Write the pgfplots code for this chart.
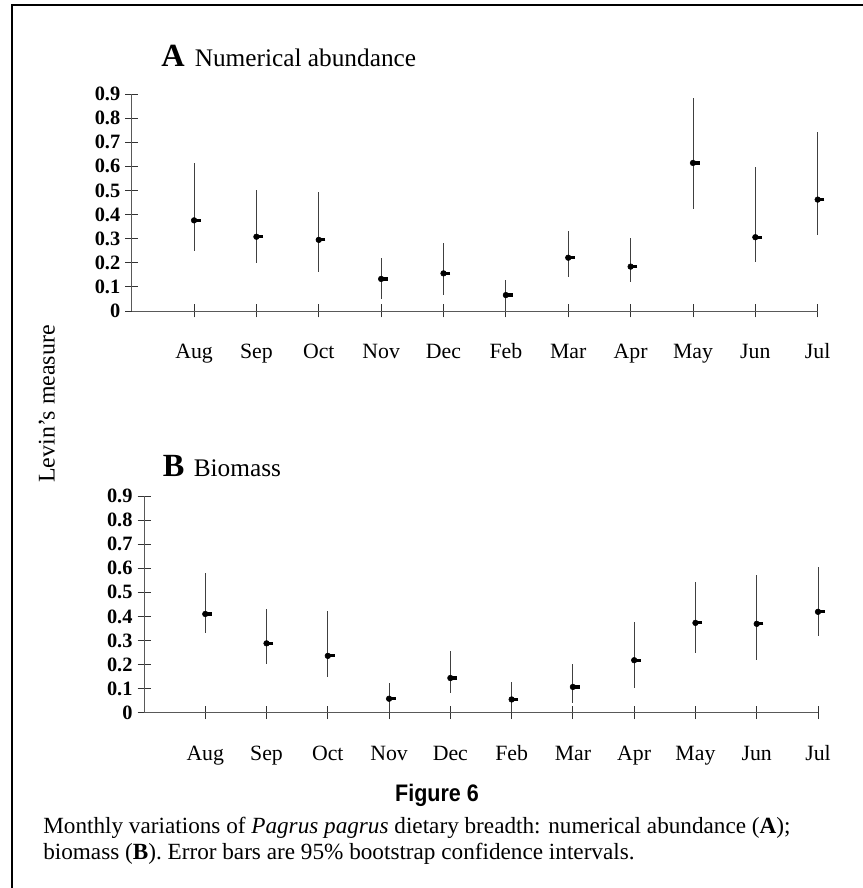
\documentclass[border=0pt]{standalone}
\usepackage{fontspec}
\setmainfont{Liberation Serif}
\newfontfamily\figfont[FakeStretch=0.9]{Liberation Sans}
\usepackage{pgfplots}
\pgfplotsset{compat=1.18}
\usepackage{pgfplotstable}

% Panel A: numerical abundance (value, lower and upper 95% CI)
\pgfplotstableread{
x  y     lo    hi
1  0.376 0.250 0.613
2  0.308 0.198 0.502
3  0.295 0.160 0.492
4  0.133 0.048 0.221
5  0.156 0.068 0.281
6  0.066 0.000 0.129
7  0.221 0.142 0.332
8  0.184 0.122 0.302
9  0.614 0.422 0.883
10 0.306 0.205 0.599
11 0.462 0.315 0.741
}\dataA

% Panel B: biomass
\pgfplotstableread{
x  y     lo    hi
1  0.410 0.329 0.582
2  0.288 0.204 0.429
3  0.236 0.148 0.422
4  0.058 0.000 0.125
5  0.144 0.082 0.255
6  0.055 0.000 0.128
7  0.107 0.040 0.204
8  0.218 0.104 0.375
9  0.373 0.246 0.544
10 0.369 0.217 0.571
11 0.419 0.317 0.605
}\dataB

\newcommand\yl[1]{{\fontsize{14.5}{14.5}\selectfont\bfseries #1}}

\pgfplotsset{
  panel/.style={
    scale only axis, clip=false,
    xmin=0, xmax=11, ymin=0, ymax=0.9,
    axis lines=left,
    axis line style={-, line width=0.6pt, black!65},
    xtick={1,2,3,4,5,6,7,8,9,10,11},
    xticklabels={Aug,Sep,Oct,Nov,Dec,Feb,Mar,Apr,May,Jun,Jul},
    ytick={0,0.1,0.2,0.3,0.4,0.5,0.6,0.7,0.8,0.9},
    yticklabels={\yl{0},\yl{0.1},\yl{0.2},\yl{0.3},\yl{0.4},\yl{0.5},\yl{0.6},\yl{0.7},\yl{0.8},\yl{0.9}},
    tick align=center, major tick length=3.25mm,
    tick style={line width=0.6pt, black!80},
    xticklabel style={font=\fontsize{15.5}{16}\selectfont, anchor=north,
      text height=10.5pt, text depth=3.3pt, yshift=-5.4mm},
    yticklabel style={anchor=east},
    yticklabel shift=0mm,
  },
  bars/.style={only marks, mark=none,
    error bars/.cd, y dir=both, y explicit, error mark=none,
    error bar style={line width=0.6pt, black!75}},
  dash/.style={only marks, mark=-, mark size=0.875mm, color=black,
    mark options={line width=0.8mm, xshift=0.8mm}},
}

\newcommand\PX[2]{({#1*0.25mm},{(888-#2)*0.25mm})}

\begin{document}
\begin{tikzpicture}
\useasboundingbox (0,0) rectangle (215.75mm,222mm);
\draw[line width=0.5mm] \PX{12}{888} -- \PX{12}{5} -- \PX{863}{5};

\begin{axis}[panel, at={(32.925mm,144.25mm)}, anchor=south west,
  width=171.5mm, height=54.25mm]
\addplot[bars] table[x=x, y=y,
  y error plus expr=\thisrow{hi}-\thisrow{y},
  y error minus expr=\thisrow{y}-\thisrow{lo}] {\dataA};
\addplot[dash] table[x=x, y=y] {\dataA};
\end{axis}

\begin{axis}[panel, at={(36mm,43.825mm)}, anchor=south west,
  width=168.5mm, height=54.175mm]
\addplot[bars] table[x=x, y=y,
  y error plus expr=\thisrow{hi}-\thisrow{y},
  y error minus expr=\thisrow{y}-\thisrow{lo}] {\dataB};
\addplot[dash] table[x=x, y=y] {\dataB};
\end{axis}

\node[anchor=base west, inner sep=0, font=\bfseries\fontsize{23}{23}\selectfont] at \PX{161}{66.7} {A};
\node[anchor=base west, inner sep=0, font=\fontsize{18}{18}\selectfont] at \PX{194.5}{66.7} {Numerical abundance};
\node[anchor=base west, inner sep=0, font=\bfseries\fontsize{23}{23}\selectfont] at \PX{162.5}{476} {B};
\node[anchor=base west, inner sep=0, font=\fontsize{18}{18}\selectfont] at \PX{193.5}{476} {Biomass};

\node[rotate=90, inner sep=0, font=\fontsize{17}{17}\selectfont] at \PX{46.7}{404} {Levin’s measure};

\node[anchor=base, inner sep=0, font=\figfont\bfseries\fontsize{17}{17}\selectfont] at \PX{437}{801} {Figure 6};
\node[anchor=base west, inner sep=0, font=\fontsize{16.5}{16.5}\selectfont] at \PX{43}{833}
  {Monthly variations of \textit{Pagrus pagrus} dietary breadth: numerical abundance (\textbf{A});};
\node[anchor=base west, inner sep=0, font=\fontsize{16.5}{16.5}\selectfont] at \PX{43}{859}
  {biomass (\textbf{B}). Error bars are 95\% bootstrap confidence intervals.};
\end{tikzpicture}
\end{document}
